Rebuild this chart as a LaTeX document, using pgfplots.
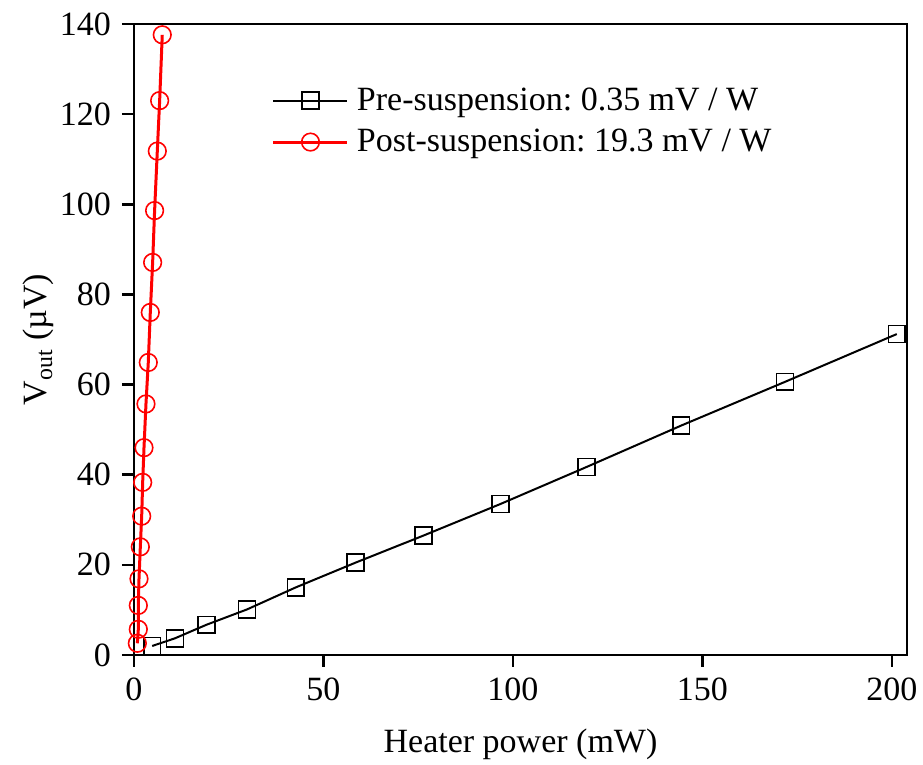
\documentclass[border=0pt]{standalone}
\usepackage{fontspec}
\setmainfont{Liberation Serif}
\usepackage{pgfplots}
\pgfplotsset{compat=1.18}
\frenchspacing
\begin{document}
\begin{tikzpicture}
\begin{axis}[
  scale only axis,
  width=386.5pt, height=315.5pt,
  xmin=0, xmax=204, ymin=0, ymax=140,
  xtick={0,50,100,150,200},
  ytick={0,20,40,60,80,100,120,140},
  axis line style={line width=1.3pt},
  tick style={line width=1.3pt, black},
  tick align=outside,
  major tick length=6pt,
  xtick pos=bottom, ytick pos=left,
  minor tick num=0,
  /pgf/number format/assume math mode=true,
  tick label style={font=\fontsize{17}{19}\selectfont},
  xticklabel style={yshift=-2pt},
  yticklabel style={xshift=-2pt},
  label style={font=\fontsize{17}{19}\selectfont},
  xlabel={Heater power (mW)},
  ylabel={V\textsubscript{out} (µV)},
  xlabel style={yshift=-7pt},
  ylabel style={yshift=-4pt},
  legend style={at={(0.178,0.906)}, anchor=north west, draw=none, fill=none,
    font=\fontsize{17}{19}\selectfont, row sep=4pt, inner sep=0pt,
    nodes={inner xsep=4pt}},
  legend cell align=left,
  legend image code/.code={\draw[mark repeat=2,mark phase=2,#1] plot coordinates {(0cm,0cm)(0.65cm,0cm)(1.3cm,0cm)};},
]
\addplot[black, line width=1pt, mark=square, mark size=4.2pt, mark options={fill=white, line width=0.8pt}]
coordinates {
(4.8,2.0) (10.8,3.7) (19.1,6.7) (29.8,10.1) (42.7,15.0) (58.5,20.5)
(76.4,26.5) (96.7,33.5) (119.4,41.7) (144.4,50.9) (171.8,60.6) (201.3,71.2)
};
\addlegendentry{Pre-suspension: 0.35 mV / W}
\addplot[red, line width=1.5pt, mark=o, mark size=4.4pt, mark options={fill=white, line width=0.8pt}]
coordinates {
(0.88,2.6) (1.14,5.7) (1.14,11.0) (1.32,16.9) (1.67,24.0) (2.03,30.8)
(2.29,38.3) (2.64,46.0) (3.16,55.7) (3.77,64.9) (4.30,76.0) (4.92,87.1)
(5.44,98.6) (6.15,111.8) (6.77,123.0) (7.46,137.6)
};
\addlegendentry{Post-suspension: 19.3 mV / W}
\end{axis}
\pgfresetboundingbox
\path[use as bounding box] ([shift={(-67pt,-55pt)}]current axis.south west) rectangle ([shift={(8pt,12pt)}]current axis.north east);
\end{tikzpicture}
\end{document}
